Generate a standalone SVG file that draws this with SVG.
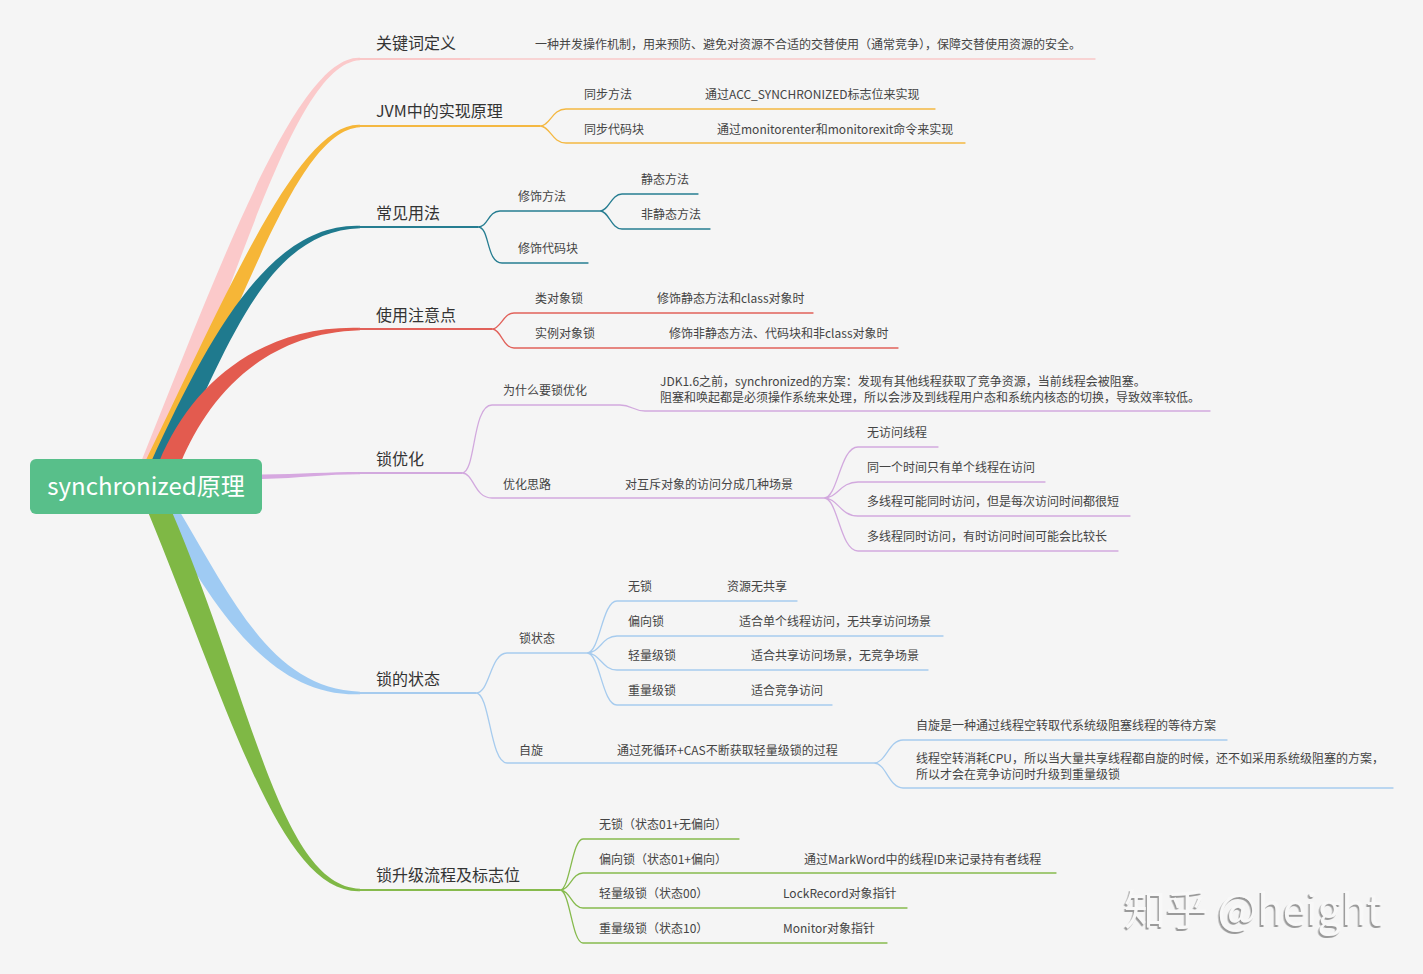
<svg xmlns="http://www.w3.org/2000/svg" width="1423" height="974" viewBox="0 0 1423 974">
<defs>
<style>
text{font-family:"Noto Sans CJK SC","Noto Sans",sans-serif}
.t1{font-size:16px;fill:#333}
.t2{font-size:12px;fill:#444}
.root{font-size:24px;fill:#ffffff}
.ln{fill:none;stroke-width:1.3;stroke-linecap:round}
.ul{fill:none;stroke-width:2.2}
.pk{stroke:#f9c8c8}.pkf{fill:#fbc9ca}
.or{stroke:#f4b842}.orf{fill:#f6b637}
.te{stroke:#267d91}.tef{fill:#1f7a8e}
.rd{stroke:#e1615a}.rdf{fill:#e35b4f}
.pu{stroke:#d2a9de}.puf{fill:#d6a8e0}
.bl{stroke:#a6cbee}.blf{fill:#9fcbf3}
.gr{stroke:#86ba4d}.grf{fill:#7fb845}
.wm{font-size:42px;fill:#f8f8f8}
</style>
<filter id="emboss" x="-5%" y="-20%" width="110%" height="140%">
<feDropShadow dx="-1.5" dy="2" stdDeviation="0.5" flood-color="#9a9a9a"/>
</filter>
</defs>
<rect width="1423" height="974" fill="#f5f5f5"/>
<g id="connectors">
<!-- main ribbons -->
<path class="pkf" d="M141,462 C222,260 298,55 360,57.8 L360,60.2 C298,63 244,260 163,462 Z"/>
<path class="orf" d="M145,462 C226.6,294 298.8,122 360,124.8 L360,127.2 C298.8,130 248.6,294 167,462 Z"/>
<path class="tef" d="M151,462 C210.4,332.75 270.9,223 360,225.8 L360,228.2 C270.9,231 232.4,332.75 173,462 Z"/>
<path class="rdf" d="M159,462 C192,382 262,325 360,327.8 L360,330.2 C262,333 208,398 181,462 Z"/>
<path class="puf" d="M262,474.5 C300,474 330,472 360,472 L360,474.2 C330,474 300,478 262,479 Z"/>
<path class="blf" d="M160,512 C219,619 274.5,697 360,694.3 L360,691.7 C274.5,689 235,605 180,512 Z"/>
<path class="grf" d="M148,512 C229,708 280,894 360,891.3 L360,888.7 C280,886 251,696 172,512 Z"/>
<!-- 关键词定义 -->
<path class="ul pk" d="M358,59 H470"/>
<path class="ln pk" d="M470,59 H1095"/>
<!-- JVM -->
<path class="ul or" d="M358,126 H540"/>
<path class="ln or" d="M540,126 C550,126 552,109 566,109 H935 M540,126 C550,126 552,143 566,143 H965"/>
<!-- 常见用法 -->
<path class="ul te" d="M358,227 H478"/>
<path class="ln te" d="M478,227 C488,227 488,211 500,211 H600 M478,227 C490,227 486,263 502,263 H588 M600,211 C609,211 611,194 622,194 H698 M600,211 C609,211 611,229 622,229 H710"/>
<!-- 使用注意点 -->
<path class="ul rd" d="M358,329 H492"/>
<path class="ln rd" d="M492,329 C501,329 503,313 514,313 H813 M492,329 C501,329 503,348 514,348 H898"/>
<!-- 锁优化 -->
<path class="ul pu" d="M358,473 H462"/>
<path class="ln pu" d="M462,473 C476,473 472,405 492,405 H620 C632,405 633,411 645,411 H1210 M462,473 C474,473 474,498 492,498 H824 M824,498 C838,498 840,447 858,447 H938 M824,498 C838,498 840,482 858,482 H1045 M824,498 C838,498 840,516 858,516 H1130 M824,498 C838,498 840,551 858,551 H1118"/>
<!-- 锁的状态 -->
<path class="ul bl" d="M358,693 H476"/>
<path class="ln bl" d="M476,693 C490,693 490,653 507,653 H587 M476,693 C490,693 490,763 507,763 H874 M587,653 C600,653 602,601 617,601 H797 M587,653 C600,653 602,636 617,636 H943 M587,653 C600,653 602,670 617,670 H928 M587,653 C600,653 602,705 617,705 H832 M874,763 C886,763 889,740 903,740 H1227 M874,763 C886,763 889,788 903,788 H1393"/>
<!-- 锁升级流程及标志位 -->
<path class="ul gr" d="M358,890 H560"/>
<path class="ln gr" d="M560,890 C570,890 572,839 583,839 H739 M560,890 C570,890 572,873 583,873 H1056 M560,890 C570,890 572,908 583,908 H907 M560,890 C570,890 572,943 583,943 H887"/>
</g>
<g id="root">
<rect x="30" y="459" width="232" height="55" rx="6" fill="#58bf8a"/>
<text class="root" x="146" y="495" text-anchor="middle">synchronized原理</text>
</g>
<g id="n-keyword">
<text class="t1" x="376" y="49">关键词定义</text>
<text class="t2" x="535" y="48.5">一种并发操作机制，用来预防、避免对资源不合适的交替使用（通常竞争），保障交替使用资源的安全。</text>
</g>
<g id="n-jvm">
<text class="t1" x="376" y="117">JVM中的实现原理</text>
<text class="t2" x="584" y="98.5">同步方法</text>
<text class="t2" x="705" y="98.5">通过ACC_SYNCHRONIZED标志位来实现</text>
<text class="t2" x="584" y="133.5">同步代码块</text>
<text class="t2" x="717" y="133.5">通过monitorenter和monitorexit命令来实现</text>
</g>
<g id="n-usage">
<text class="t1" x="376" y="219">常见用法</text>
<text class="t2" x="518" y="200.5">修饰方法</text>
<text class="t2" x="641" y="183.5">静态方法</text>
<text class="t2" x="641" y="218.5">非静态方法</text>
<text class="t2" x="518" y="252.5">修饰代码块</text>
</g>
<g id="n-notice">
<text class="t1" x="376" y="321">使用注意点</text>
<text class="t2" x="535" y="302.5">类对象锁</text>
<text class="t2" x="657" y="302.5">修饰静态方法和class对象时</text>
<text class="t2" x="535" y="337.5">实例对象锁</text>
<text class="t2" x="669" y="337.5">修饰非静态方法、代码块和非class对象时</text>
</g>
<g id="n-optimize">
<text class="t1" x="376" y="465">锁优化</text>
<text class="t2" x="503" y="394.5">为什么要锁优化</text>
<text class="t2" x="660" y="385.5">JDK1.6之前，synchronized的方案：发现有其他线程获取了竞争资源，当前线程会被阻塞。</text>
<text class="t2" x="660" y="401.5">阻塞和唤起都是必须操作系统来处理，所以会涉及到线程用户态和系统内核态的切换，导致效率较低。</text>
<text class="t2" x="503" y="488.5">优化思路</text>
<text class="t2" x="625" y="488.5">对互斥对象的访问分成几种场景</text>
<text class="t2" x="867" y="436.5">无访问线程</text>
<text class="t2" x="867" y="471.5">同一个时间只有单个线程在访问</text>
<text class="t2" x="867" y="505.5">多线程可能同时访问，但是每次访问时间都很短</text>
<text class="t2" x="867" y="540.5">多线程同时访问，有时访问时间可能会比较长</text>
</g>
<g id="n-state">
<text class="t1" x="376" y="685">锁的状态</text>
<text class="t2" x="519" y="642.5">锁状态</text>
<text class="t2" x="628" y="590.5">无锁</text>
<text class="t2" x="727" y="590.5">资源无共享</text>
<text class="t2" x="628" y="625.5">偏向锁</text>
<text class="t2" x="739" y="625.5">适合单个线程访问，无共享访问场景</text>
<text class="t2" x="628" y="659.5">轻量级锁</text>
<text class="t2" x="751" y="659.5">适合共享访问场景，无竞争场景</text>
<text class="t2" x="628" y="694.5">重量级锁</text>
<text class="t2" x="751" y="694.5">适合竞争访问</text>
<text class="t2" x="519" y="754.5">自旋</text>
<text class="t2" x="617" y="754.5">通过死循环+CAS不断获取轻量级锁的过程</text>
<text class="t2" x="916" y="729.5">自旋是一种通过线程空转取代系统级阻塞线程的等待方案</text>
<text class="t2" x="916" y="762.5">线程空转消耗CPU，所以当大量共享线程都自旋的时候，还不如采用系统级阻塞的方案，</text>
<text class="t2" x="916" y="778.5">所以才会在竞争访问时升级到重量级锁</text>
</g>
<g id="n-upgrade">
<text class="t1" x="376" y="881">锁升级流程及标志位</text>
<text class="t2" x="599" y="828.5">无锁（状态01+无偏向）</text>
<text class="t2" x="599" y="863.5">偏向锁（状态01+偏向）</text>
<text class="t2" x="804" y="863.5">通过MarkWord中的线程ID来记录持有者线程</text>
<text class="t2" x="599" y="897.5">轻量级锁（状态00）</text>
<text class="t2" x="783" y="897.5">LockRecord对象指针</text>
<text class="t2" x="599" y="932.5">重量级锁（状态10）</text>
<text class="t2" x="783" y="932.5">Monitor对象指针</text>
</g>
<g id="watermark">
<text class="wm" x="1124" y="925" filter="url(#emboss)">知乎 @height</text>
</g>
</svg>
